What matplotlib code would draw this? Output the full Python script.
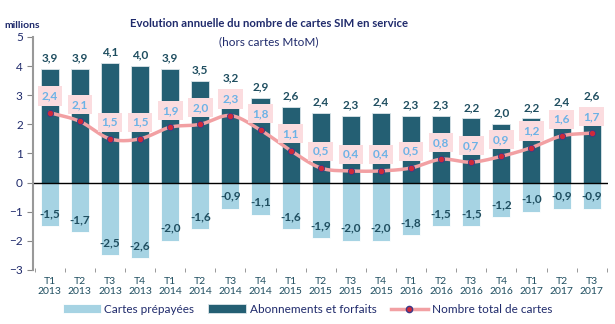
import numpy as np
import matplotlib.pyplot as plt

plt.rcParams['font.family'] = ['Lato', 'DejaVu Sans']

trimestres = ['T1\n2013', 'T2\n2013', 'T3\n2013', 'T4\n2013',
              'T1\n2014', 'T2\n2014', 'T3\n2014', 'T4\n2014',
              'T1\n2015', 'T2\n2015', 'T3\n2015', 'T4\n2015',
              'T1\n2016', 'T2\n2016', 'T3\n2016', 'T4\n2016',
              'T1\n2017', 'T2\n2017', 'T3\n2017']
abonnements = [3.9, 3.9, 4.1, 4.0, 3.9, 3.5, 3.2, 2.9, 2.6, 2.4, 2.3, 2.4,
               2.3, 2.3, 2.2, 2.0, 2.2, 2.4, 2.6]
prepayees = [-1.5, -1.7, -2.5, -2.6, -2.0, -1.6, -0.9, -1.1, -1.6, -1.9, -2.0,
             -2.0, -1.8, -1.5, -1.5, -1.2, -1.0, -0.9, -0.9]
total = [2.4, 2.1, 1.5, 1.5, 1.9, 2.0, 2.3, 1.8, 1.1, 0.5, 0.4, 0.4, 0.5, 0.8,
         0.7, 0.9, 1.2, 1.6, 1.7]

c_abo = '#245f73'
c_pre = '#a6d3e3'
c_lab = '#1f4e60'
c_line = '#f2a0a3'


def fr(v):
    return ('%.1f' % v).replace('.', ',')


def smooth(xs, ys, n=20):
    # courbe lissée type Catmull-Rom
    xs = np.asarray(xs, float)
    ys = np.asarray(ys, float)
    px = np.concatenate([[2 * xs[0] - xs[1]], xs, [2 * xs[-1] - xs[-2]]])
    py = np.concatenate([[2 * ys[0] - ys[1]], ys, [2 * ys[-1] - ys[-2]]])
    ox, oy = [], []
    for i in range(1, len(px) - 2):
        t = np.linspace(0, 1, n, endpoint=False)
        for p, o in ((px, ox), (py, oy)):
            p0, p1, p2, p3 = p[i - 1], p[i], p[i + 1], p[i + 2]
            o.extend(0.5 * (2 * p1 + (-p0 + p2) * t + (2 * p0 - 5 * p1 + 4 * p2 - p3) * t ** 2
                            + (-p0 + 3 * p1 - 3 * p2 + p3) * t ** 3))
    ox.append(xs[-1])
    oy.append(ys[-1])
    return ox, oy


x = np.arange(len(trimestres))

fig = plt.figure(figsize=(6.15, 3.24), dpi=100)
ax = fig.add_axes([0.054, 0.167, 0.935, 0.719])

h_pre = ax.bar(x, prepayees, width=0.6, color=c_pre, edgecolor='white', linewidth=0.6,
               label='Cartes prépayées', zorder=2)
h_abo = ax.bar(x, abonnements, width=0.6, color=c_abo, edgecolor='#dce6ea', linewidth=0.6,
               label='Abonnements et forfaits', zorder=2)

sx, sy = smooth(x, total)
ax.plot(sx, sy, color=c_line, lw=2.5, zorder=3)
ax.plot(x, total, 'o', color='#d0293a', mec='#3a3a8a', mew=0.6, ms=4.5, zorder=4)
h_tot, = ax.plot([], [], '-o', color=c_line, lw=2.5, mfc='#d0293a', mec='#3a3a8a', ms=4.5,
                 label='Nombre total de cartes')

for i in x:
    ax.annotate(fr(abonnements[i]), (i, abonnements[i]), xytext=(0, 4),
                textcoords='offset points', ha='center', va='bottom',
                fontsize=8.5, fontweight='bold', color=c_lab, zorder=5)
    ax.annotate(fr(prepayees[i]), (i, prepayees[i]), xytext=(0, 9),
                textcoords='offset points', ha='center', va='center',
                fontsize=8.5, fontweight='bold', color=c_lab, zorder=5)
    ax.annotate(fr(total[i]), (i, total[i]), xytext=(0, 12),
                textcoords='offset points', ha='center', va='center',
                fontsize=8.5, fontweight='bold', color='#6cb2e6', zorder=6,
                bbox=dict(boxstyle='square,pad=0.35', fc='#fbdcdf', ec='none'))

ax.set_xlim(-0.55, len(x) - 0.45)
ax.set_ylim(-3, 5)
ax.set_yticks(range(-3, 6))
ax.tick_params(axis='y', labelsize=8.5, labelcolor='#1f2a6b', color='#888888', length=4)
ax.set_xticks(x)
ax.set_xticklabels(trimestres, fontsize=7.5, color='#1f4e60', linespacing=1.2)
ax.tick_params(axis='x', length=0, pad=5)
ax.set_xticks(np.arange(-0.5, len(x)), minor=True)
ax.tick_params(axis='x', which='minor', length=3, direction='inout', color='#888888')

for s in ['top', 'right', 'bottom']:
    ax.spines[s].set_visible(False)
ax.spines['left'].set_color('#999999')
ax.spines['left'].set_linewidth(1.5)
ax.axhline(0, color='black', lw=1, zorder=2.5)

fig.text(0.437, 0.926, 'Evolution annuelle du nombre de cartes SIM en service',
         ha='center', va='center', fontsize=8.2, fontweight='bold', color='#1f2a6b')
fig.text(0.437, 0.87, '(hors cartes MtoM)', ha='center', va='center',
         fontsize=8.5, color='#1f2a6b')
fig.text(0.007, 0.92, 'millions', ha='left', va='center', fontsize=7.5,
         fontweight='bold', color='#1f2a6b')

fig.legend(handles=[h_pre, h_abo, h_tot], loc='center', bbox_to_anchor=(0.5, 0.045),
           ncol=3, frameon=False, fontsize=8.5, handlelength=3.2, handleheight=0.8,
           columnspacing=1.2, handletextpad=0.3, labelcolor='#1f2a6b')

fig.savefig('out.png', dpi=100)
